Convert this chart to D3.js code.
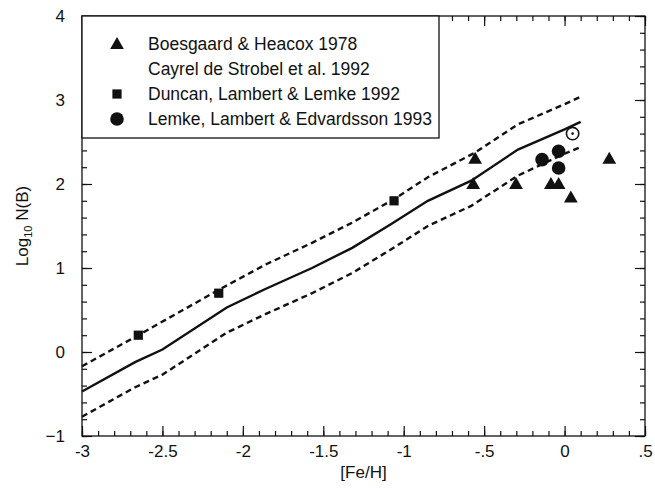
<!DOCTYPE html>
<html>
  <head>
    <meta charset="utf-8" />
    <title>Boron abundance vs [Fe/H]</title>
    <script src="https://cdn.jsdelivr.net/npm/d3@7"></script>
    <style>
      body { margin: 0; background: #fff; }
      text { font-family: "Liberation Sans", Arial, sans-serif; fill: #111; }
    </style>
  </head>
  <body>
    <script>
// data
var modelX = [-3, -2.67, -2.5, -2.1, -1.86, -1.57, -1.32, -1.08, -0.85, -0.58, -0.29, 0.0, 0.1];
var modelY = [-0.47, -0.12, 0.03, 0.53, 0.75, 1.0, 1.24, 1.52, 1.8, 2.04, 2.41, 2.65, 2.74];
var upperX = [-3, -2.65, -2.15, -1.86, -1.57, -1.32, -1.06, -0.85, -0.56, -0.29, 0.0, 0.1];
var upperY = [-0.17, 0.2, 0.74, 1.04, 1.3, 1.54, 1.82, 2.08, 2.37, 2.71, 2.95, 3.04];
var lowerX = [-3, -2.67, -2.5, -2.1, -1.86, -1.57, -1.32, -1.08, -0.85, -0.58, -0.29, 0.0, 0.1];
var lowerY = [-0.77, -0.42, -0.27, 0.23, 0.45, 0.7, 0.94, 1.22, 1.5, 1.74, 2.1, 2.36, 2.44];

var boesgaardFe = [-0.556, -0.568, -0.302, -0.085, -0.037, 0.039, 0.278];
var boesgaardB  = [2.3, 2.0, 2.0, 2.0, 2.0, 1.84, 2.3];
var duncanFe = [-2.65, -2.15, -1.06];
var duncanB  = [0.2, 0.7, 1.8];
var lemkeFe = [-0.14, -0.037, -0.037];
var lemkeB  = [2.29, 2.39, 2.19];
var sunFe = [0.05];
var sunB  = [2.6];

var legendLabels = ["Boesgaard & Heacox 1978", "Cayrel de Strobel et al. 1992",
                    "Duncan, Lambert & Lemke 1992", "Lemke, Lambert & Edvardsson 1993"];
var legendShapes = ["triangle", "none", "square", "circle"];

var xTicks = [-3, -2.5, -2, -1.5, -1, -0.5, 0, 0.5];
var yTicks = [-1, 0, 1, 2, 3, 4];

var W = 655, H = 491,
    pLeft = 82, pRight = 645, pTop = 16, pBottom = 436;

var svg = d3.select("body").append("svg")
  .attr("width", W).attr("height", H);

var x = d3.scaleLinear().domain([-3, 0.5]).range([pLeft, pRight]);
var y = d3.scaleLinear().domain([-1, 4]).range([pBottom, pTop]);

var fmtX = function(v) { return v == 0 ? "0" : String(v).replace("0.", "."); };

var xMinor = d3.range(-30, 6).map(function(i) { return i / 10; });
var yMinor = d3.range(-5, 21).map(function(i) { return i / 5; });

function drawAxis(axis, tr) {
  var g = svg.append("g").attr("transform", tr).call(axis);
  g.select(".domain").remove();
  g.selectAll("line").attr("stroke", "#111").attr("stroke-width", 1.2);
  return g;
}

// minor ticks on all four sides
drawAxis(d3.axisBottom(x).tickValues(xMinor).tickSize(-5).tickFormat(""), "translate(0," + pBottom + ")");
drawAxis(d3.axisTop(x).tickValues(xMinor).tickSize(-5).tickFormat(""), "translate(0," + pTop + ")");
drawAxis(d3.axisLeft(y).tickValues(yMinor).tickSize(-5).tickFormat(""), "translate(" + pLeft + ",0)");
drawAxis(d3.axisRight(y).tickValues(yMinor).tickSize(-5).tickFormat(""), "translate(" + pRight + ",0)");

// major ticks + labels
var gx = drawAxis(d3.axisBottom(x).tickValues(xTicks).tickSize(-10).tickPadding(9).tickFormat(fmtX),
  "translate(0," + pBottom + ")");
gx.selectAll("text").attr("font-size", 17).attr("font-family", "Liberation Sans, Arial, sans-serif").attr("fill", "#111");
drawAxis(d3.axisTop(x).tickValues(xTicks).tickSize(-10).tickFormat(""), "translate(0," + pTop + ")");
var gy = drawAxis(d3.axisLeft(y).tickValues(yTicks).tickSize(-10).tickPadding(17).tickFormat(d3.format("d")),
  "translate(" + pLeft + ",0)");
gy.selectAll("text").attr("font-size", 17).attr("font-family", "Liberation Sans, Arial, sans-serif").attr("fill", "#111");
drawAxis(d3.axisRight(y).tickValues(yTicks).tickSize(-10).tickFormat(""), "translate(" + pRight + ",0)");

// frame
svg.append("rect")
  .attr("x", pLeft).attr("y", pTop)
  .attr("width", pRight - pLeft).attr("height", pBottom - pTop)
  .attr("fill", "none").attr("stroke", "#111").attr("stroke-width", 1.3);

// axis titles
svg.append("text")
  .attr("x", (pLeft + pRight) / 2).attr("y", 478)
  .attr("text-anchor", "middle").attr("font-size", 17)
  .text("[Fe/H]");

var yl = svg.append("text")
  .attr("transform", "translate(28," + ((pTop + pBottom) / 2) + ") rotate(-90)")
  .attr("text-anchor", "middle").attr("font-size", 17);
yl.append("tspan").text("Log");
yl.append("tspan").attr("font-size", 11).attr("dy", 4).text("10");
yl.append("tspan").attr("dy", -4).text(" N(B)");

// curves
var line = d3.line().x(function(d) { return x(d[0]); }).y(function(d) { return y(d[1]); });
function zip(a, b) { return a.map(function(v, i) { return [v, b[i]]; }); }

svg.append("path").datum(zip(modelX, modelY)).attr("d", line)
  .attr("fill", "none").attr("stroke", "#111").attr("stroke-width", 2.4);
svg.append("path").datum(zip(upperX, upperY)).attr("d", line)
  .attr("fill", "none").attr("stroke", "#111").attr("stroke-width", 2.4).attr("stroke-dasharray", "6,4");
svg.append("path").datum(zip(lowerX, lowerY)).attr("d", line)
  .attr("fill", "none").attr("stroke", "#111").attr("stroke-width", 2.4).attr("stroke-dasharray", "6,4");

// symbols
var tri = d3.symbol().type(d3.symbolTriangle).size(82);
var sq = d3.symbol().type(d3.symbolSquare).size(85);

svg.selectAll(".tri").data(zip(boesgaardFe, boesgaardB)).enter().append("path")
  .attr("d", tri).attr("fill", "#111")
  .attr("transform", function(d) { return "translate(" + x(d[0]) + "," + (y(d[1]) + 1) + ")"; });

svg.selectAll(".sq").data(zip(duncanFe, duncanB)).enter().append("path")
  .attr("d", sq).attr("fill", "#111")
  .attr("transform", function(d) { return "translate(" + x(d[0]) + "," + y(d[1]) + ")"; });

svg.selectAll(".dot").data(zip(lemkeFe, lemkeB)).enter().append("circle")
  .attr("cx", function(d) { return x(d[0]); })
  .attr("cy", function(d) { return y(d[1]); })
  .attr("r", 6.8).attr("fill", "#111");

var sun = svg.selectAll(".sun").data(zip(sunFe, sunB)).enter().append("g")
  .attr("transform", function(d) { return "translate(" + x(d[0]) + "," + y(d[1]) + ")"; });
sun.append("circle").attr("r", 6.2).attr("fill", "#fff").attr("stroke", "#111").attr("stroke-width", 1.6);
sun.append("circle").attr("r", 1.3).attr("fill", "#111");

// legend
var lg = svg.append("g");
lg.append("rect")
  .attr("x", pLeft).attr("y", pTop).attr("width", 357).attr("height", 122)
  .attr("fill", "#fff").attr("stroke", "#111").attr("stroke-width", 1.3);

var rows = lg.selectAll(".row").data(legendLabels).enter().append("g")
  .attr("transform", function(d, i) { return "translate(0," + (44 + i * 25) + ")"; });
rows.append("text").attr("x", 148).attr("y", 6).attr("font-size", 17.5)
  .text(function(d) { return d; });
rows.each(function(d, i) {
  var g = d3.select(this), s = legendShapes[i];
  if (s == "triangle") g.append("path").attr("d", tri).attr("transform", "translate(117,1)").attr("fill", "#111");
  if (s == "square") g.append("path").attr("d", sq).attr("transform", "translate(117,0)").attr("fill", "#111");
  if (s == "circle") g.append("circle").attr("cx", 117).attr("cy", 0).attr("r", 6.8).attr("fill", "#111");
});
    </script>
  </body>
</html>
